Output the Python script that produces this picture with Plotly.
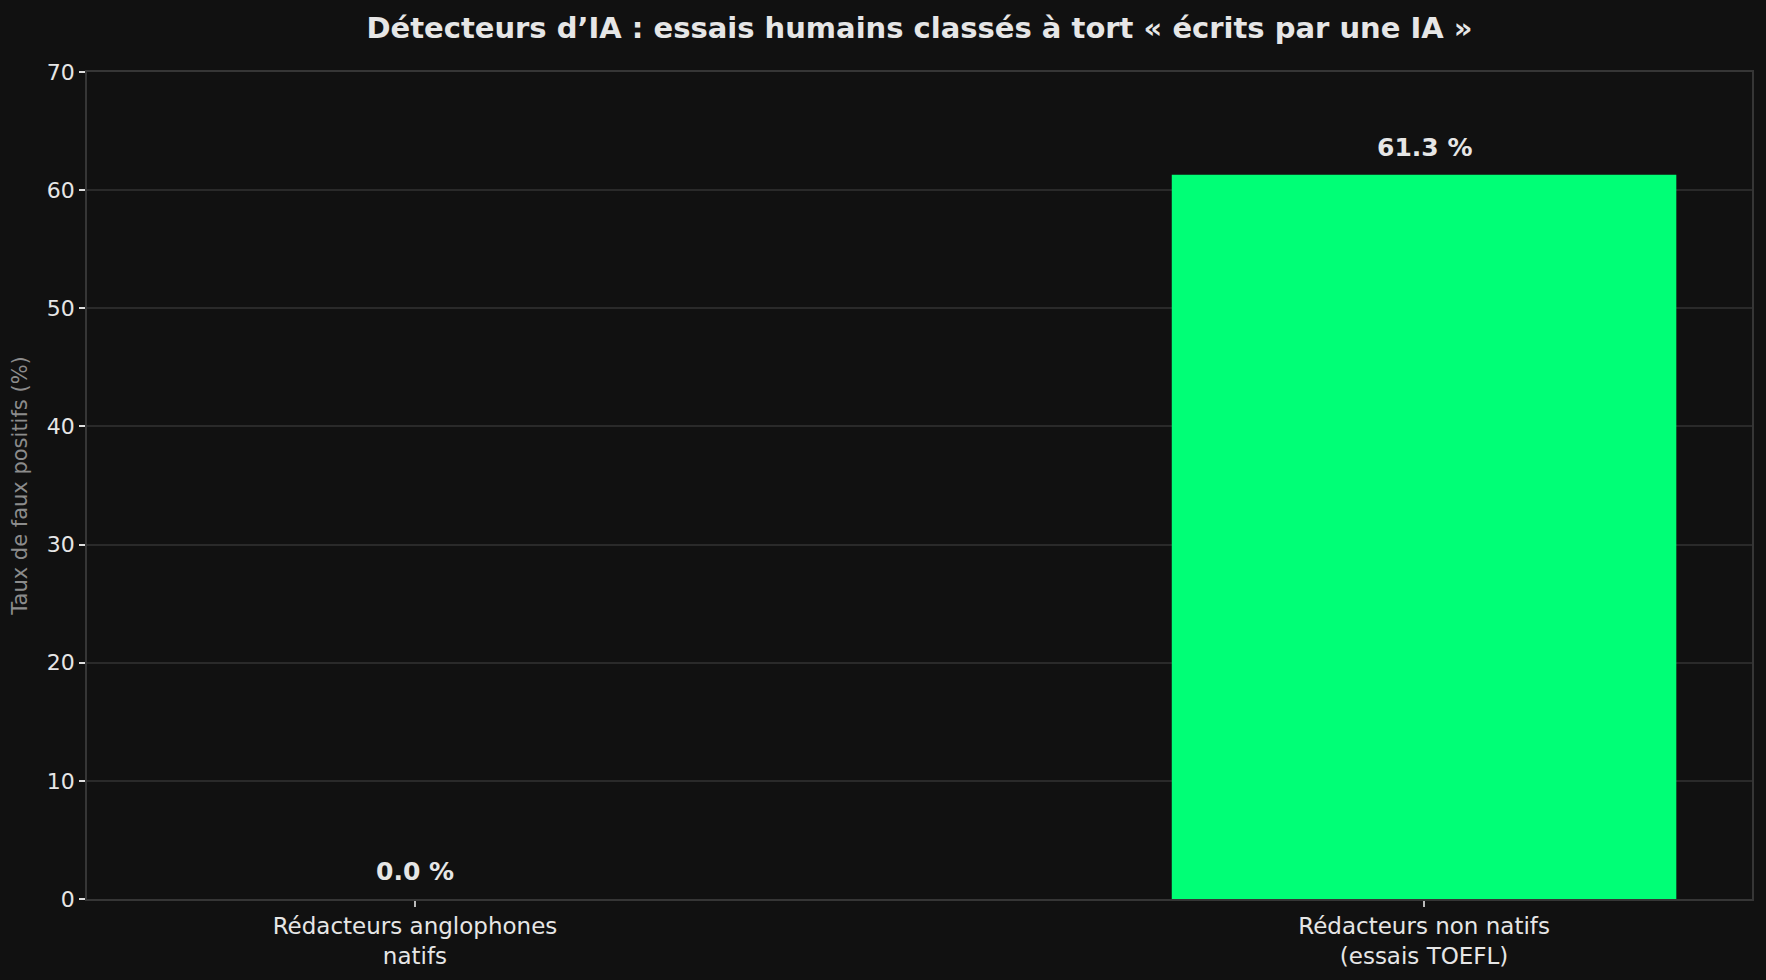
import plotly.graph_objects as go

# données
categories = ["Rédacteurs anglophones<br>natifs", "Rédacteurs non natifs<br>(essais TOEFL)"]
taux_faux_positifs = [0.0, 61.3]
labels = [f"{v:.1f} %" for v in taux_faux_positifs]

BG = "#111111"
TEXT = "#e6e6e6"
GRID = "#2a2a2a"
SPINE = "#363636"
BAR = "#00ff76"
FONT = "DejaVu Sans"

fig = go.Figure(go.Bar(
    x=categories,
    y=taux_faux_positifs,
    marker=dict(color=BAR, line=dict(width=0)),
    hoverinfo="skip",
))

# étiquettes au-dessus des barres
for cat, val, lab in zip(categories, taux_faux_positifs, labels):
    fig.add_annotation(
        x=cat, y=val, text=f"<b>{lab}</b>",
        showarrow=False, yanchor="bottom", yshift=11,
        font=dict(family=FONT, size=25, color=TEXT),
    )

fig.update_layout(
    width=1766,
    height=980,
    paper_bgcolor=BG,
    plot_bgcolor=BG,
    font=dict(family=FONT, color=TEXT),
    showlegend=False,
    bargap=0.5,
    title=dict(
        text="<b>Détecteurs d’IA : essais humains classés à tort « écrits par une IA »</b>",
        x=0.5, xref="paper", xanchor="center",
        y=1 - 28 / 980, yanchor="middle",
        font=dict(family=FONT, size=29, color=TEXT),
    ),
    margin=dict(l=87, r=14, t=72, b=81),
    xaxis=dict(
        range=[-0.325, 1.325],
        showgrid=False,
        showline=True, linecolor=SPINE, linewidth=1.5, mirror=True,
        ticks="outside", ticklen=6, tickcolor="#bbbbbb", tickwidth=1.5,
        tickfont=dict(family=FONT, size=23, color=TEXT),
    ),
    yaxis=dict(
        range=[0, 70], dtick=10,
        showgrid=True, gridcolor=GRID, gridwidth=1.5,
        zeroline=False,
        showline=True, linecolor=SPINE, linewidth=1.5, mirror=True,
        ticks="outside", ticklen=6, tickcolor="#dddddd", tickwidth=1.5,
        tickfont=dict(family=FONT, size=22, color=TEXT),
        title=dict(text="Taux de faux positifs (%)", standoff=13,
                   font=dict(family=FONT, size=21, color="#8c8c8c")),
    ),
)

# pas de marge blanche autour de la page, pas de barre d'outils
fig.write_html(
    "out.html",
    config={"displayModeBar": False},
    post_script="document.body.style.margin='0';",
)
